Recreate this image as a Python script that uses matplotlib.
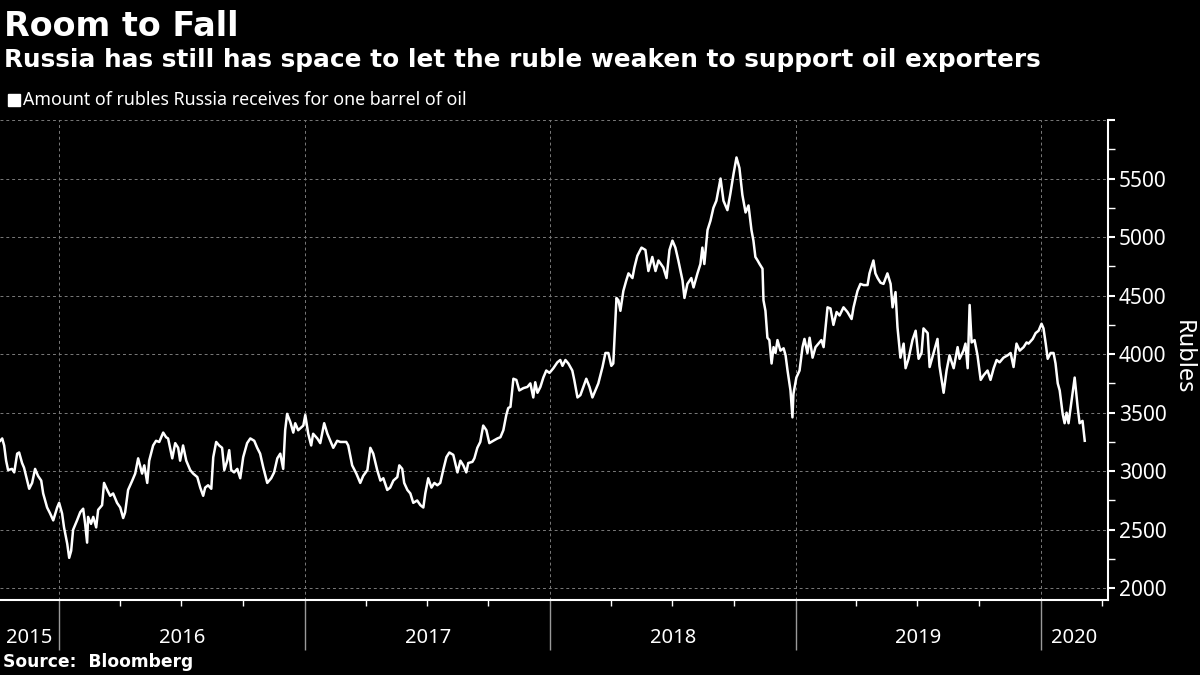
import numpy as np
import pandas as pd
import matplotlib
matplotlib.use('Agg')
import matplotlib.pyplot as plt
import matplotlib.dates as mdates
from matplotlib.ticker import MultipleLocator, NullFormatter
from matplotlib.patches import Rectangle

plt.rcParams['font.family'] = ['Noto Sans', 'DejaVu Sans']

# Rublos recebidos por barril de petróleo (datas em ano decimal)
anos_2015 = [2015.760, 2015.768, 2015.776, 2015.784, 2015.792, 2015.808, 2015.817, 2015.829,
             2015.837, 2015.849, 2015.857, 2015.870, 2015.878, 2015.890, 2015.902, 2015.914,
             2015.927, 2015.935, 2015.951, 2015.963, 2015.976, 2015.992]
rublos_2015 = [3260, 3280, 3220, 3090, 3010, 3020, 2990, 3150,
               3160, 3070, 3030, 2920, 2850, 2900, 3020, 2960,
               2920, 2810, 2690, 2640, 2580, 2690]

anos_2016 = [2016.000, 2016.012, 2016.020, 2016.033, 2016.041, 2016.049, 2016.057, 2016.073,
             2016.086, 2016.098, 2016.106, 2016.114, 2016.118, 2016.130, 2016.139, 2016.151,
             2016.159, 2016.175, 2016.183, 2016.196, 2016.208, 2016.220, 2016.236, 2016.249,
             2016.261, 2016.269, 2016.281, 2016.298, 2016.310, 2016.322, 2016.338, 2016.347,
             2016.359, 2016.367, 2016.383, 2016.395, 2016.408, 2016.424, 2016.436, 2016.444,
             2016.461, 2016.473, 2016.485, 2016.493, 2016.505, 2016.518, 2016.534, 2016.546,
             2016.563, 2016.575, 2016.587, 2016.595, 2016.607, 2016.620, 2016.628, 2016.640,
             2016.652, 2016.664, 2016.673, 2016.685, 2016.693, 2016.701, 2016.713, 2016.726,
             2016.738, 2016.750, 2016.766, 2016.779, 2016.795, 2016.807, 2016.819, 2016.832,
             2016.848, 2016.864, 2016.876, 2016.889, 2016.901, 2016.913, 2016.921, 2016.929,
             2016.942, 2016.954, 2016.962, 2016.974, 2016.995]
rublos_2016 = [2730, 2640, 2520, 2380, 2260, 2320, 2500, 2580,
               2650, 2680, 2550, 2390, 2610, 2550, 2610, 2520,
               2670, 2710, 2900, 2840, 2790, 2810, 2730, 2690,
               2600, 2650, 2840, 2920, 2980, 3110, 2980, 3050,
               2900, 3090, 3220, 3260, 3250, 3330, 3290, 3280,
               3110, 3240, 3200, 3090, 3220, 3090, 3010, 2980,
               2950, 2860, 2790, 2860, 2880, 2850, 3120, 3250,
               3220, 3200, 3010, 3090, 3180, 3010, 2990, 3020,
               2940, 3120, 3240, 3280, 3260, 3200, 3150, 3030,
               2900, 2940, 2990, 3110, 3150, 3020, 3350, 3490,
               3420, 3330, 3410, 3350, 3390]

anos_2017 = [2017.003, 2017.015, 2017.027, 2017.035, 2017.052, 2017.064, 2017.080, 2017.093,
             2017.105, 2017.117, 2017.133, 2017.146, 2017.170, 2017.178, 2017.194, 2017.211,
             2017.227, 2017.239, 2017.256, 2017.268, 2017.280, 2017.296, 2017.309, 2017.321,
             2017.337, 2017.349, 2017.362, 2017.378, 2017.386, 2017.398, 2017.406, 2017.419,
             2017.431, 2017.443, 2017.459, 2017.472, 2017.484, 2017.492, 2017.504, 2017.517,
             2017.529, 2017.541, 2017.553, 2017.565, 2017.578, 2017.590, 2017.606, 2017.614,
             2017.623, 2017.635, 2017.647, 2017.659, 2017.667, 2017.684, 2017.692, 2017.704,
             2017.716, 2017.728, 2017.741, 2017.753, 2017.769, 2017.786, 2017.798, 2017.810,
             2017.822, 2017.830, 2017.839, 2017.851, 2017.863, 2017.875, 2017.892, 2017.908,
             2017.920, 2017.932, 2017.940, 2017.949, 2017.961, 2017.973, 2017.985, 2017.998]
rublos_2017 = [3480, 3320, 3220, 3320, 3280, 3240, 3410, 3320,
               3260, 3200, 3260, 3250, 3250, 3220, 3050, 2980,
               2900, 2960, 3010, 3200, 3150, 3010, 2920, 2940,
               2840, 2860, 2920, 2950, 3050, 3020, 2900, 2840,
               2810, 2730, 2750, 2710, 2690, 2810, 2940, 2860,
               2900, 2880, 2900, 3010, 3120, 3160, 3140, 3070,
               2990, 3090, 3050, 2990, 3070, 3080, 3110, 3200,
               3250, 3390, 3350, 3240, 3260, 3280, 3290, 3350,
               3480, 3540, 3550, 3790, 3780, 3690, 3710, 3720,
               3750, 3630, 3760, 3670, 3720, 3800, 3860, 3840]

anos_2018 = [2018.014, 2018.030, 2018.042, 2018.051, 2018.063, 2018.075, 2018.091, 2018.099,
             2018.112, 2018.124, 2018.136, 2018.148, 2018.161, 2018.173, 2018.185, 2018.197,
             2018.214, 2018.226, 2018.238, 2018.250, 2018.258, 2018.271, 2018.279, 2018.287,
             2018.299, 2018.311, 2018.320, 2018.336, 2018.344, 2018.356, 2018.373, 2018.389,
             2018.401, 2018.417, 2018.430, 2018.442, 2018.462, 2018.475, 2018.487, 2018.499,
             2018.511, 2018.523, 2018.540, 2018.548, 2018.560, 2018.576, 2018.585, 2018.601,
             2018.613, 2018.621, 2018.629, 2018.642, 2018.654, 2018.666, 2018.678, 2018.695,
             2018.707, 2018.723, 2018.735, 2018.748, 2018.760, 2018.772, 2018.784, 2018.797,
             2018.809, 2018.821, 2018.829, 2018.837, 2018.846, 2018.854, 2018.866, 2018.870,
             2018.878, 2018.886, 2018.894, 2018.903, 2018.911, 2018.919, 2018.927, 2018.939,
             2018.952, 2018.960, 2018.968, 2018.980, 2018.988, 2018.992]
rublos_2018 = [3880, 3930, 3950, 3900, 3950, 3920, 3860, 3780,
               3630, 3650, 3720, 3790, 3720, 3630, 3690, 3750,
               3890, 4010, 4010, 3900, 3920, 4480, 4460, 4370,
               4540, 4630, 4690, 4650, 4740, 4840, 4910, 4890,
               4710, 4830, 4710, 4800, 4740, 4650, 4890, 4970,
               4910, 4800, 4630, 4480, 4600, 4650, 4570, 4690,
               4770, 4910, 4770, 5060, 5140, 5250, 5310, 5500,
               5310, 5230, 5370, 5540, 5680, 5590, 5360, 5210,
               5270, 5060, 4970, 4830, 4800, 4770, 4730, 4460,
               4370, 4140, 4120, 3920, 4060, 4010, 4120, 4030,
               4050, 3990, 3860, 3690, 3460, 3660]

anos_2019 = [2019.004, 2019.017, 2019.029, 2019.037, 2019.049, 2019.058, 2019.070, 2019.082,
             2019.094, 2019.106, 2019.115, 2019.131, 2019.143, 2019.155, 2019.168, 2019.180,
             2019.196, 2019.212, 2019.229, 2019.237, 2019.253, 2019.265, 2019.278, 2019.294,
             2019.302, 2019.318, 2019.326, 2019.335, 2019.347, 2019.359, 2019.375, 2019.388,
             2019.396, 2019.408, 2019.416, 2019.428, 2019.441, 2019.449, 2019.461, 2019.477,
             2019.490, 2019.502, 2019.514, 2019.522, 2019.539, 2019.547, 2019.563, 2019.579,
             2019.587, 2019.604, 2019.616, 2019.628, 2019.645, 2019.661, 2019.669, 2019.685,
             2019.693, 2019.702, 2019.710, 2019.718, 2019.730, 2019.742, 2019.755, 2019.767,
             2019.783, 2019.795, 2019.808, 2019.820, 2019.832, 2019.848, 2019.865, 2019.877,
             2019.889, 2019.901, 2019.914, 2019.930, 2019.942, 2019.950, 2019.967, 2019.979,
             2019.991]
rublos_2019 = [3800, 3860, 4060, 4130, 4010, 4140, 3970, 4060,
               4090, 4120, 4060, 4400, 4390, 4250, 4360, 4330,
               4400, 4360, 4300, 4400, 4540, 4600, 4590, 4590,
               4690, 4800, 4690, 4650, 4610, 4600, 4690, 4600,
               4400, 4530, 4230, 3970, 4090, 3880, 3960, 4120,
               4200, 3960, 4010, 4220, 4180, 3890, 4010, 4130,
               3900, 3670, 3860, 3990, 3880, 4060, 3960, 4030,
               4090, 3880, 4420, 4100, 4120, 3990, 3780, 3820,
               3860, 3780, 3880, 3950, 3930, 3970, 3990, 4010,
               3890, 4090, 4030, 4060, 4100, 4090, 4130, 4180,
               4200]

anos_2020 = [2020.003, 2020.011, 2020.020, 2020.028, 2020.040, 2020.052, 2020.060, 2020.069,
             2020.077, 2020.089, 2020.097, 2020.105, 2020.113, 2020.126, 2020.138, 2020.150,
             2020.158, 2020.170, 2020.179]
rublos_2020 = [4260, 4220, 4090, 3960, 4010, 4010, 3920, 3750,
               3690, 3490, 3410, 3500, 3410, 3610, 3800, 3550,
               3410, 3430, 3260]

rotulos_anos = [2015, 2016, 2017, 2018, 2019, 2020]

anos = np.concatenate([anos_2015, anos_2016, anos_2017, anos_2018, anos_2019, anos_2020])
rublos = np.concatenate([rublos_2015, rublos_2016, rublos_2017, rublos_2018, rublos_2019, rublos_2020])
datas = pd.Timestamp('2016-01-01') + pd.to_timedelta((anos - 2016) * 365.25, unit='D')

inicio = pd.Timestamp('2015-10-05')
fim = pd.Timestamp('2020-04-10')

fig = plt.figure(figsize=(12, 6.75), dpi=100, facecolor='black')
ax = fig.add_axes([0, 75 / 675, 1108 / 1200, 480 / 675])
ax.set_facecolor('black')

ax.plot(datas, rublos, color='white', lw=1.8, solid_joinstyle='round')

ax.set_xlim(inicio, fim)
ax.set_ylim(1900, 6000)

# eixo y do lado direito
ax.yaxis.tick_right()
ax.set_yticks(np.arange(2000, 6001, 500))
ax.set_yticklabels([str(v) for v in range(2000, 6000, 500)] + [''])
ax.yaxis.set_minor_locator(MultipleLocator(250))
ax.tick_params(axis='y', which='major', colors='white', length=5, width=1.5, labelsize=15, pad=3)
ax.tick_params(axis='y', which='minor', colors='white', length=5, width=1)

# eixo x: anos e trimestres
ax.xaxis.set_major_locator(mdates.YearLocator())
ax.xaxis.set_minor_locator(mdates.MonthLocator(bymonth=[1, 4, 7, 10]))
ax.xaxis.set_major_formatter(NullFormatter())
ax.tick_params(axis='x', which='major', colors='#9a9a9a', length=36, width=1)
ax.tick_params(axis='x', which='minor', colors='white', length=4, width=1)

ax.grid(True, which='major', color='#7a7a7a', ls=(0, (3, 3)), lw=0.7)

for lado in ['top', 'left']:
    ax.spines[lado].set_visible(False)
for lado in ['bottom', 'right']:
    ax.spines[lado].set_color('white')
    ax.spines[lado].set_linewidth(1.5)

# rótulos dos anos no meio da parte visível de cada ano
for ano in rotulos_anos:
    a = max(pd.Timestamp(f'{ano}-01-01'), inicio)
    b = min(pd.Timestamp(f'{ano + 1}-01-01'), fim)
    meio = a + (b - a) / 2
    ax.text(meio, -0.079, str(ano), transform=ax.get_xaxis_transform(),
            ha='center', va='center', color='white', fontsize=14.5)

fig.text(1183 / 1200, 1 - 357 / 675, 'Rubles', rotation=270, color='white',
         fontsize=17, ha='center', va='center')

# títulos e legenda
negrito = ['DejaVu Sans']
fig.text(0.003, 1 - 36 / 675, 'Room to Fall', color='white', fontsize=24,
         fontweight='bold', family=negrito, va='baseline')
fig.text(0.003, 1 - 67 / 675,
         'Russia has still has space to let the ruble weaken to support oil exporters',
         color='white', fontsize=17.8, fontweight='bold', family=negrito, va='baseline')
fig.add_artist(Rectangle((8 / 1200, 1 - 106 / 675), 12 / 1200, 12 / 675,
                         transform=fig.transFigure, color='white'))
fig.text(23 / 1200, 1 - 105 / 675, 'Amount of rubles Russia receives for one barrel of oil',
         color='white', fontsize=12.8, va='baseline')
fig.text(3 / 1200, 1 - 667 / 675, 'Source:  Bloomberg', color='white', fontsize=12.3,
         fontweight='bold', family=negrito, va='baseline')

fig.savefig('out.png', dpi=100, facecolor='black')
